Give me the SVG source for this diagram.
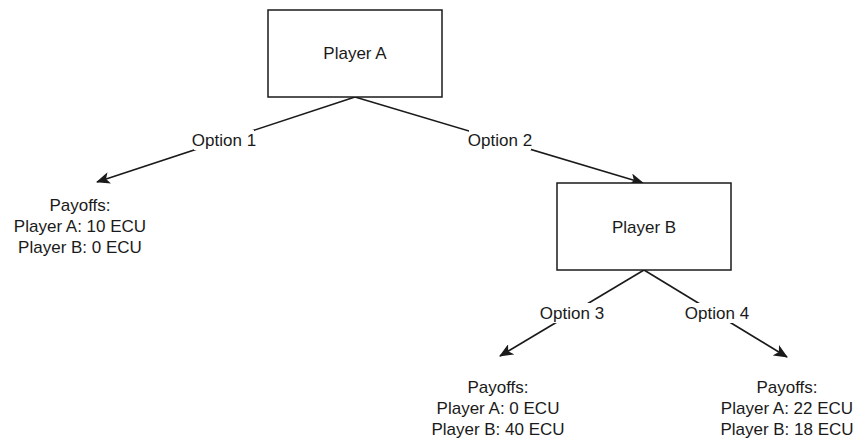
<svg xmlns="http://www.w3.org/2000/svg" width="858" height="439" viewBox="0 0 858 439">
<style>
text{font-family:"Liberation Sans",Arial,sans-serif;font-size:17px;fill:#1a1a1a;text-anchor:middle}
.box{fill:#fff;stroke:#1a1a1a;stroke-width:1.5}
.edge{stroke:#1a1a1a;stroke-width:1.6;fill:none}
.lbl{fill:#fff}
</style>
<defs>
<marker id="arr" viewBox="0 0 14 12" refX="13" refY="6" markerWidth="14" markerHeight="12" markerUnits="userSpaceOnUse" orient="auto">
<path d="M0,0 L14,6 L0,12 L3.5,6 Z" fill="#1a1a1a"/>
</marker>
</defs>
<rect width="858" height="439" fill="#fff"/>
<g id="connectors">
<line class="edge" x1="355" y1="97" x2="97" y2="182" marker-end="url(#arr)"/>
<line class="edge" x1="355" y1="97" x2="643" y2="183" marker-end="url(#arr)"/>
<line class="edge" x1="644" y1="270" x2="500" y2="356" marker-end="url(#arr)"/>
<line class="edge" x1="644" y1="270" x2="787" y2="357" marker-end="url(#arr)"/>
<rect class="lbl" x="194" y="130" width="60" height="20"/>
<text x="224" y="146">Option 1</text>
<rect class="lbl" x="469" y="130" width="62" height="20"/>
<text x="500" y="146">Option 2</text>
<rect class="lbl" x="541" y="303" width="62" height="20"/>
<text x="572" y="319">Option 3</text>
<rect class="lbl" x="686" y="303" width="62" height="20"/>
<text x="717" y="319">Option 4</text>
</g>
<g id="playerA">
<rect class="box" x="268" y="10" width="174" height="87"/>
<text x="355" y="59">Player A</text>
</g>
<g id="playerB">
<rect class="box" x="557" y="183" width="174" height="87"/>
<text x="644" y="233">Player B</text>
</g>
<g id="payoff1">
<text x="80" y="211">Payoffs:</text>
<text x="80" y="232">Player A: 10 ECU</text>
<text x="80" y="253">Player B: 0 ECU</text>
</g>
<g id="payoff3">
<text x="498" y="393">Payoffs:</text>
<text x="498" y="414">Player A: 0 ECU</text>
<text x="498" y="435">Player B: 40 ECU</text>
</g>
<g id="payoff4">
<text x="787" y="393">Payoffs:</text>
<text x="787" y="414">Player A: 22 ECU</text>
<text x="787" y="435">Player B: 18 ECU</text>
</g>
</svg>
